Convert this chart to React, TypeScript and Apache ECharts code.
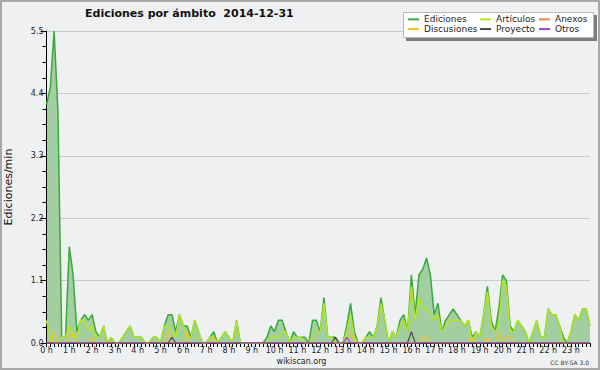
import React, { useEffect, useRef } from "react";
import * as echarts from "echarts";

// 10-minute slots, 0:00 .. 23:50
const TIMES: string[] = [];
for (let h = 0; h < 24; h++) for (let m = 0; m < 60; m += 10) TIMES.push(`${h}:${m === 0 ? "00" : m}`);

const EDICIONES = [
  4.2, 4.5, 5.5, 4.1, 0.1, 0.1, 1.7, 1.2, 0.2, 0.4, 0.5, 0.4,
  0.5, 0.2, 0.1, 0.3, 0.0, 0.1, 0.0, 0.0, 0.1, 0.2, 0.3, 0.1,
  0.1, 0.1, 0.0, 0.0, 0.1, 0.1, 0.0, 0.3, 0.5, 0.5, 0.2, 0.5,
  0.3, 0.3, 0.1, 0.4, 0.2, 0.0, 0.0, 0.1, 0.2, 0.0, 0.1, 0.2,
  0.1, 0.0, 0.4, 0.0, 0.0, 0.0, 0.0, 0.0, 0.0, 0.0, 0.1, 0.3,
  0.2, 0.4, 0.4, 0.2, 0.0, 0.2, 0.1, 0.1, 0.1, 0.0, 0.4, 0.4,
  0.2, 0.8, 0.1, 0.1, 0.1, 0.0, 0.0, 0.3, 0.7, 0.2, 0.0, 0.0,
  0.1, 0.2, 0.1, 0.3, 0.8, 0.4, 0.0, 0.2, 0.1, 0.4, 0.5, 0.2,
  1.2, 0.5, 1.2, 1.3, 1.5, 1.2, 0.5, 0.7, 0.2, 0.4, 0.5, 0.6,
  0.5, 0.4, 0.3, 0.4, 0.1, 0.2, 0.1, 0.5, 1.0, 0.4, 0.2, 0.6,
  1.2, 1.1, 0.3, 0.2, 0.4, 0.3, 0.2, 0.0, 0.2, 0.4, 0.1, 0.1,
  0.6, 0.5, 0.5, 0.3, 0.1, 0.0, 0.2, 0.5, 0.4, 0.6, 0.6, 0.3,
];

const ARTICULOS = [
  0.4, 0.1, 0.0, 0.0, 0.1, 0.1, 0.3, 0.1, 0.1, 0.4, 0.4, 0.2,
  0.3, 0.1, 0.1, 0.3, 0.0, 0.1, 0.0, 0.0, 0.1, 0.2, 0.3, 0.1,
  0.1, 0.1, 0.0, 0.0, 0.1, 0.1, 0.0, 0.3, 0.3, 0.2, 0.1, 0.5,
  0.3, 0.1, 0.1, 0.4, 0.2, 0.0, 0.0, 0.1, 0.1, 0.0, 0.1, 0.2,
  0.1, 0.0, 0.4, 0.0, 0.0, 0.0, 0.0, 0.0, 0.0, 0.0, 0.0, 0.1,
  0.1, 0.1, 0.2, 0.2, 0.0, 0.1, 0.1, 0.1, 0.0, 0.0, 0.1, 0.2,
  0.2, 0.7, 0.1, 0.1, 0.0, 0.0, 0.0, 0.2, 0.5, 0.1, 0.0, 0.0,
  0.1, 0.1, 0.1, 0.3, 0.7, 0.4, 0.0, 0.2, 0.1, 0.3, 0.4, 0.2,
  1.0, 0.4, 0.8, 0.6, 0.6, 0.5, 0.4, 0.5, 0.2, 0.3, 0.4, 0.4,
  0.4, 0.4, 0.3, 0.4, 0.0, 0.2, 0.1, 0.5, 0.9, 0.3, 0.2, 0.3,
  1.1, 1.0, 0.2, 0.2, 0.4, 0.3, 0.2, 0.0, 0.2, 0.4, 0.1, 0.1,
  0.6, 0.5, 0.5, 0.3, 0.0, 0.0, 0.2, 0.5, 0.4, 0.6, 0.6, 0.3,
];

// sparse series: [slot index, value]; all other slots are 0
const DISCUSIONES_PTS: [number, number][] = [
  [2, 0.2], [6, 0.1], [7, 0.2], [12, 0.1], [32, 0.2], [37, 0.2], [44, 0.1],
  [80, 0.2], [99, 0.1], [100, 0.1], [112, 0.1], [116, 0.1], [119, 0.2], [121, 0.1], [122, 0.1],
];
const PROYECTO_PTS: [number, number][] = [[33, 0.1], [76, 0.1], [96, 0.2]];
const ANEXOS_PTS: [number, number][] = [];
const OTROS_PTS: [number, number][] = [[79, 0.1]];

const Y_TICKS = [0, 1.1, 2.2, 3.3, 4.4, 5.5];

const FONT = "'DejaVu Sans', sans-serif";

function expand(pts: [number, number][]): number[] {
  const out = TIMES.map(() => 0);
  pts.forEach(([i, v]) => (out[i] = v));
  return out;
}

export default function App() {
  const ref = useRef<HTMLDivElement>(null);
  useEffect(() => {
    if (!ref.current) return;
    const chart = echarts.init(ref.current, null, { renderer: "svg" });
    const lineSeries = (name: string, data: number[], color: string, width: number, extra: any = {}) => ({
      name,
      type: "line",
      data,
      color,
      symbol: "none",
      lineStyle: { color, width },
      itemStyle: { color },
      ...extra,
    });
    const legendCol = (names: string[], left: number) => ({
      data: names,
      orient: "vertical",
      left,
      top: 14.5,
      padding: 0,
      itemWidth: 11,
      itemHeight: 2,
      itemGap: 0,
      icon: "rect",
      selectedMode: false,
      z: 8,
      textStyle: { fontSize: 9, lineHeight: 9.7, color: "#222", fontFamily: FONT },
    });
    chart.setOption({
      animation: false,
      backgroundColor: "#eff0f1",
      textStyle: { fontFamily: FONT },
      title: {
        text: "Ediciones por ámbito  2014-12-31",
        left: 85,
        top: 8,
        padding: 0,
        textStyle: { fontSize: 11, fontWeight: "bold", color: "#111", fontFamily: FONT },
      },
      legend: [
        legendCol(["Ediciones", "Discusiones"], 408),
        legendCol(["Artículos", "Proyecto"], 480),
        legendCol(["Anexos", "Otros"], 539),
      ],
      grid: { left: 46.5, right: 10, top: 31, bottom: 27, containLabel: false, outerBoundsMode: "none" },
      xAxis: {
        type: "category",
        data: TIMES,
        boundaryGap: false,
        z: 3,
        axisLine: { lineStyle: { color: "#000", width: 1 } },
        axisTick: { show: true, interval: 0, length: 4, lineStyle: { color: "#000" } },
        axisLabel: {
          interval: 5,
          formatter: (_v: string, idx: number) => `${idx / 6} h`,
          fontSize: 8,
          color: "#222",
          margin: 3,
          fontFamily: FONT,
        },
        splitLine: { show: false },
      },
      yAxis: {
        type: "value",
        min: Y_TICKS[0],
        max: Y_TICKS[Y_TICKS.length - 1],
        interval: Y_TICKS[1],
        z: 3,
        name: "Ediciones/min",
        nameLocation: "middle",
        nameRotate: 90,
        nameGap: 32.5,
        nameTextStyle: { fontSize: 11, color: "#111", fontFamily: FONT },
        axisLine: { show: true, lineStyle: { color: "#000", width: 1 } },
        axisTick: { show: true, length: 6, lineStyle: { color: "#000" } },
        minorTick: { show: true, splitNumber: 4, length: 4, lineStyle: { color: "#000" } },
        axisLabel: {
          formatter: (v: number) => v.toFixed(1),
          fontSize: 8,
          color: "#222",
          margin: 3,
          fontFamily: FONT,
        },
        splitLine: { show: true, lineStyle: { color: "#c8c9ca", width: 1 } },
      },
      series: [
        lineSeries("Ediciones", EDICIONES, "#3aa83a", 1.5, {
          areaStyle: { color: "#a2cea2", opacity: 1 },
        }),
        lineSeries("Artículos", ARTICULOS, "#b2e624", 1.5),
        lineSeries("Discusiones", expand(DISCUSIONES_PTS), "#f2c523", 1.2),
        lineSeries("Anexos", expand(ANEXOS_PTS), "#f0844a", 1.2),
        lineSeries("Proyecto", expand(PROYECTO_PTS), "#4a4a4a", 1.2),
        lineSeries("Otros", expand(OTROS_PTS), "#9a40f0", 1.2),
      ],
      graphic: [
        {
          type: "rect",
          z: 100,
          silent: true,
          shape: { x: 1, y: 1, width: 598, height: 368 },
          style: { fill: "none", stroke: "#a8a8a8", lineWidth: 2 },
        },
        {
          type: "rect",
          z: 5,
          shape: { x: 406, y: 15, width: 191, height: 26 },
          style: { fill: "#7d7d7d" },
        },
        {
          type: "rect",
          z: 6,
          shape: { x: 403.5, y: 12.5, width: 190, height: 25 },
          style: { fill: "#ffffff", stroke: "#b8b8b8", lineWidth: 1 },
        },
        {
          type: "text",
          z: 6,
          x: 301.5,
          y: 361,
          style: {
            text: "wikiscan.org",
            fontSize: 8,
            fontFamily: FONT,
            fill: "#222",
            align: "center",
            verticalAlign: "middle",
          },
        },
        {
          type: "text",
          z: 6,
          x: 589,
          y: 362,
          style: {
            text: "CC BY-SA 3.0",
            fontSize: 6,
            fontFamily: FONT,
            fill: "#333",
            align: "right",
            verticalAlign: "middle",
          },
        },
      ],
    });
    return () => chart.dispose();
  }, []);
  return (
    <div
      ref={ref}
      style={{ position: "absolute", left: 0, top: 0, width: 600, height: 370 }}
    />
  );
}
